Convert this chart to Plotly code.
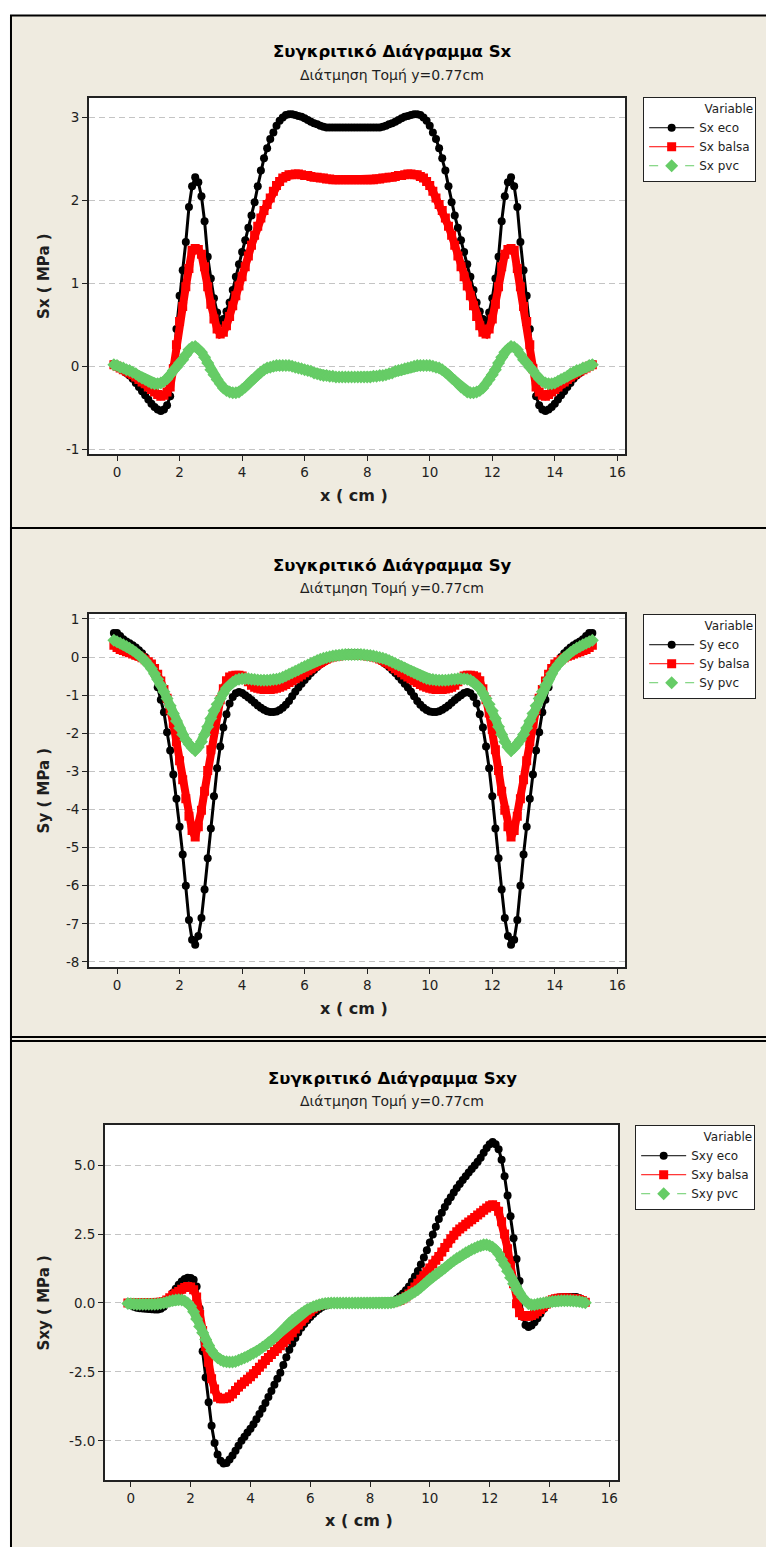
import plotly.graph_objects as go

# Sampling stations along the section (cm)
X_CM = [i / 10 for i in range(-1, 153)]

# ---- Sx (MPa) ----
SX_ECO = [
    0.03, 0.01, -0.02, -0.05, -0.08, -0.11, -0.15, -0.20, -0.25, -0.30,
    -0.35, -0.40, -0.45, -0.49, -0.52, -0.54, -0.52, -0.47, -0.36, 0.00,
    0.45, 0.85, 1.16, 1.50, 1.92, 2.17, 2.28, 2.22, 2.05, 1.75,
    1.32, 1.06, 0.82, 0.65, 0.52, 0.57, 0.66, 0.77, 0.92, 1.08,
    1.23, 1.38, 1.52, 1.67, 1.82, 1.98, 2.17, 2.36, 2.51, 2.63,
    2.74, 2.82, 2.90, 2.96, 3.00, 3.03, 3.04, 3.04, 3.03, 3.02,
    3.01, 2.99, 2.97, 2.95, 2.93, 2.92, 2.90, 2.89, 2.88, 2.88,
    2.88, 2.88, 2.88, 2.88, 2.88, 2.88, 2.88,
    2.88, 2.88, 2.88, 2.88, 2.88, 2.88, 2.88,
    2.88, 2.88, 2.89, 2.90, 2.92, 2.93, 2.95, 2.97, 2.99, 3.01,
    3.02, 3.03, 3.04, 3.04, 3.03, 3.00, 2.96, 2.90, 2.82, 2.74,
    2.63, 2.51, 2.36, 2.17, 1.98, 1.82, 1.67, 1.52, 1.38, 1.23,
    1.08, 0.92, 0.77, 0.66, 0.57, 0.52, 0.65, 0.82, 1.06, 1.32,
    1.75, 2.05, 2.22, 2.28, 2.17, 1.92, 1.50, 1.16, 0.85, 0.45,
    0.00, -0.36, -0.47, -0.52, -0.54, -0.52, -0.49, -0.45, -0.40, -0.35,
    -0.30, -0.25, -0.20, -0.15, -0.11, -0.08, -0.05, -0.02, 0.01, 0.03,
]
SX_BALSA = [
    0.02, 0.00, -0.02, -0.04, -0.06, -0.08, -0.10, -0.13, -0.16, -0.19,
    -0.21, -0.25, -0.28, -0.31, -0.34, -0.36, -0.35, -0.31, -0.25, -0.03,
    0.26, 0.54, 0.72, 0.96, 1.18, 1.40, 1.42, 1.41, 1.35, 1.20,
    0.96, 0.75, 0.57, 0.45, 0.39, 0.41, 0.49, 0.60, 0.73, 0.85,
    0.97, 1.08, 1.20, 1.33, 1.46, 1.58, 1.69, 1.79, 1.88, 1.95,
    2.03, 2.11, 2.18, 2.23, 2.27, 2.29, 2.31, 2.31, 2.32, 2.32,
    2.31, 2.30, 2.30, 2.29, 2.28, 2.28, 2.27, 2.27, 2.26, 2.26,
    2.25, 2.25, 2.25, 2.25, 2.25, 2.25, 2.25,
    2.25, 2.25, 2.25, 2.25, 2.25, 2.25, 2.25,
    2.26, 2.26, 2.27, 2.27, 2.28, 2.28, 2.29, 2.30, 2.30, 2.31,
    2.32, 2.32, 2.31, 2.31, 2.29, 2.27, 2.23, 2.18, 2.11, 2.03,
    1.95, 1.88, 1.79, 1.69, 1.58, 1.46, 1.33, 1.20, 1.08, 0.97,
    0.85, 0.73, 0.60, 0.49, 0.41, 0.39, 0.45, 0.57, 0.75, 0.96,
    1.20, 1.35, 1.41, 1.42, 1.40, 1.18, 0.96, 0.72, 0.54, 0.26,
    -0.03, -0.25, -0.31, -0.35, -0.36, -0.34, -0.31, -0.28, -0.25, -0.21,
    -0.19, -0.16, -0.13, -0.10, -0.08, -0.06, -0.04, -0.02, 0.00, 0.02,
]
SX_PVC = [
    0.02, 0.01, -0.01, -0.02, -0.04, -0.05, -0.07, -0.09, -0.12, -0.14,
    -0.16, -0.18, -0.20, -0.21, -0.21, -0.20, -0.18, -0.15, -0.10, -0.05,
    -0.01, 0.04, 0.08, 0.14, 0.20, 0.23, 0.24, 0.21, 0.17, 0.11,
    0.04, -0.04, -0.10, -0.16, -0.21, -0.26, -0.29, -0.31, -0.32, -0.32,
    -0.31, -0.28, -0.25, -0.21, -0.17, -0.14, -0.10, -0.07, -0.04, -0.02,
    -0.01, 0.00, 0.01, 0.01, 0.01, 0.01, 0.01, 0.00, -0.01, -0.02,
    -0.03, -0.04, -0.05, -0.06, -0.08, -0.09, -0.10, -0.11, -0.11, -0.12,
    -0.12, -0.13, -0.13, -0.13, -0.13, -0.13, -0.13,
    -0.13, -0.13, -0.13, -0.13, -0.13, -0.13, -0.12,
    -0.12, -0.11, -0.11, -0.10, -0.09, -0.08, -0.06, -0.05, -0.04, -0.03,
    -0.02, -0.01, 0.00, 0.01, 0.01, 0.01, 0.01, 0.01, 0.00, -0.01,
    -0.02, -0.04, -0.07, -0.10, -0.14, -0.17, -0.21, -0.25, -0.28, -0.31,
    -0.32, -0.32, -0.31, -0.29, -0.26, -0.21, -0.16, -0.10, -0.04, 0.04,
    0.11, 0.17, 0.21, 0.24, 0.23, 0.20, 0.14, 0.08, 0.04, -0.01,
    -0.05, -0.10, -0.15, -0.18, -0.20, -0.21, -0.21, -0.20, -0.18, -0.16,
    -0.14, -0.12, -0.09, -0.07, -0.05, -0.04, -0.02, -0.01, 0.01, 0.02,
]

# ---- Sy (MPa) ----
SY_ECO = [
    0.63, 0.63, 0.55, 0.47, 0.41, 0.36, 0.31, 0.25, 0.18, 0.10,
    0.00, -0.12, -0.27, -0.47, -0.79, -1.12, -1.45, -1.97, -2.45, -3.08,
    -3.72, -4.45, -5.18, -6.00, -6.90, -7.42, -7.55, -7.32, -6.85, -6.10,
    -5.28, -4.50, -3.65, -2.92, -2.35, -1.85, -1.50, -1.22, -1.05, -0.95,
    -0.92, -0.94, -1.00, -1.06, -1.13, -1.20, -1.27, -1.33, -1.38, -1.42,
    -1.44, -1.44, -1.43, -1.39, -1.33, -1.25, -1.15, -1.03, -0.91, -0.80,
    -0.70, -0.60, -0.51, -0.42, -0.34, -0.26, -0.19, -0.13, -0.07, -0.02,
    0.02, 0.05, 0.07, 0.08, 0.09, 0.10, 0.10,
    0.10, 0.10, 0.09, 0.08, 0.07, 0.05, 0.02,
    -0.02, -0.07, -0.13, -0.19, -0.26, -0.34, -0.42, -0.51, -0.60, -0.70,
    -0.80, -0.91, -1.03, -1.15, -1.25, -1.33, -1.39, -1.43, -1.44, -1.44,
    -1.42, -1.38, -1.33, -1.27, -1.20, -1.13, -1.06, -1.00, -0.94, -0.92,
    -0.95, -1.05, -1.22, -1.50, -1.85, -2.35, -2.92, -3.65, -4.50, -5.28,
    -6.10, -6.85, -7.32, -7.55, -7.42, -6.90, -6.00, -5.18, -4.45, -3.72,
    -3.08, -2.45, -1.97, -1.45, -1.12, -0.79, -0.47, -0.27, -0.12, 0.00,
    0.10, 0.18, 0.25, 0.31, 0.36, 0.41, 0.47, 0.55, 0.63, 0.63,
]
SY_BALSA = [
    0.31, 0.25, 0.20, 0.17, 0.14, 0.11, 0.08, 0.05, 0.02, -0.02,
    -0.07, -0.12, -0.18, -0.30, -0.45, -0.63, -0.85, -1.08, -1.38, -1.75,
    -2.22, -2.72, -3.22, -3.72, -4.18, -4.55, -4.72, -4.45, -4.02, -3.52,
    -2.98, -2.43, -1.90, -1.47, -1.12, -0.83, -0.62, -0.52, -0.49, -0.48,
    -0.48, -0.50, -0.56, -0.65, -0.74, -0.79, -0.82, -0.84, -0.85, -0.85,
    -0.85, -0.84, -0.82, -0.79, -0.76, -0.72, -0.67, -0.62, -0.57, -0.52,
    -0.47, -0.41, -0.36, -0.31, -0.25, -0.19, -0.14, -0.09, -0.05, -0.02,
    0.00, 0.02, 0.03, 0.04, 0.04, 0.05, 0.05,
    0.05, 0.05, 0.04, 0.04, 0.03, 0.02, 0.00,
    -0.02, -0.05, -0.09, -0.14, -0.19, -0.25, -0.31, -0.36, -0.41, -0.47,
    -0.52, -0.57, -0.62, -0.67, -0.72, -0.76, -0.79, -0.82, -0.84, -0.85,
    -0.85, -0.85, -0.84, -0.82, -0.79, -0.74, -0.65, -0.56, -0.50, -0.48,
    -0.48, -0.49, -0.52, -0.62, -0.83, -1.12, -1.47, -1.90, -2.43, -2.98,
    -3.52, -4.02, -4.45, -4.72, -4.55, -4.18, -3.72, -3.22, -2.72, -2.22,
    -1.75, -1.38, -1.08, -0.85, -0.63, -0.45, -0.30, -0.18, -0.12, -0.07,
    -0.02, 0.02, 0.05, 0.08, 0.11, 0.14, 0.17, 0.20, 0.25, 0.31,
]
SY_PVC = [
    0.44, 0.40, 0.36, 0.32, 0.28, 0.23, 0.18, 0.12, 0.05, -0.02,
    -0.10, -0.20, -0.31, -0.44, -0.58, -0.74, -0.91, -1.09, -1.28, -1.48,
    -1.68, -1.86, -2.03, -2.17, -2.28, -2.38, -2.45, -2.36, -2.22, -2.03,
    -1.83, -1.61, -1.41, -1.24, -1.09, -0.95, -0.82, -0.73, -0.66, -0.61,
    -0.58, -0.57, -0.57, -0.57, -0.58, -0.59, -0.60, -0.61, -0.61, -0.61,
    -0.60, -0.59, -0.58, -0.56, -0.53, -0.49, -0.45, -0.41, -0.37, -0.33,
    -0.29, -0.25, -0.21, -0.17, -0.13, -0.09, -0.06, -0.03, -0.01, 0.01,
    0.03, 0.04, 0.05, 0.06, 0.07, 0.07, 0.07,
    0.07, 0.07, 0.07, 0.06, 0.05, 0.04, 0.03,
    0.01, -0.01, -0.03, -0.06, -0.09, -0.13, -0.17, -0.21, -0.25, -0.29,
    -0.33, -0.37, -0.41, -0.45, -0.49, -0.53, -0.56, -0.58, -0.59, -0.60,
    -0.61, -0.61, -0.61, -0.60, -0.59, -0.58, -0.57, -0.57, -0.57, -0.58,
    -0.61, -0.66, -0.73, -0.82, -0.95, -1.09, -1.24, -1.41, -1.61, -1.83,
    -2.03, -2.22, -2.36, -2.45, -2.38, -2.28, -2.17, -2.03, -1.86, -1.68,
    -1.48, -1.28, -1.09, -0.91, -0.74, -0.58, -0.44, -0.31, -0.20, -0.10,
    -0.02, 0.05, 0.12, 0.18, 0.23, 0.28, 0.32, 0.36, 0.40, 0.44,
]

# ---- Sxy (MPa) ----
SXY_ECO = [
    0.00, -0.08, -0.14, -0.17, -0.19, -0.20, -0.21, -0.22, -0.23, -0.24,
    -0.24, -0.21, -0.14, -0.02, 0.18, 0.36, 0.52, 0.66, 0.78, 0.87,
    0.92, 0.91, 0.84, 0.60, -0.20, -1.75, -2.70, -3.60, -4.45, -5.08,
    -5.50, -5.72, -5.82, -5.80, -5.68, -5.53, -5.36, -5.18, -5.00, -4.85,
    -4.70, -4.56, -4.40, -4.22, -4.03, -3.84, -3.63, -3.41, -3.19, -2.97,
    -2.75, -2.53, -2.25, -1.97, -1.70, -1.47, -1.27, -1.07, -0.90, -0.76,
    -0.63, -0.51, -0.40, -0.30, -0.22, -0.15, -0.10, -0.06, -0.03, -0.01,
    0.00, 0.00, 0.00, 0.00, 0.00, 0.00, 0.00, 0.00, 0.00, 0.00,
    0.00, 0.00, 0.00, 0.00, 0.00, 0.00, 0.00, 0.01, 0.04, 0.08,
    0.15, 0.24, 0.34, 0.46, 0.60, 0.78, 0.96, 1.16, 1.40, 1.65,
    1.91, 2.19, 2.48, 2.77, 3.05, 3.27, 3.48, 3.67, 3.84, 4.01,
    4.17, 4.32, 4.46, 4.60, 4.73, 4.86, 4.99, 5.12, 5.27, 5.45,
    5.62, 5.76, 5.84, 5.76, 5.58, 5.20, 4.60, 3.90, 3.15, 2.35,
    1.60, 0.80, -0.50, -0.80, -0.87, -0.82, -0.70, -0.55, -0.39, -0.22,
    -0.08, 0.04, 0.12, 0.17, 0.20, 0.21, 0.22, 0.22, 0.22, 0.22,
    0.22, 0.18, 0.10, 0.02,
]
SXY_BALSA = [
    0.00, 0.00, 0.00, 0.00, 0.00, 0.00, 0.00, 0.00, 0.00, 0.01,
    0.02, 0.03, 0.05, 0.11, 0.19, 0.28, 0.35, 0.42, 0.50, 0.56,
    0.60, 0.58, 0.48, 0.22, -0.42, -1.00, -1.58, -2.15, -2.75, -3.12,
    -3.42, -3.47, -3.47, -3.46, -3.40, -3.30, -3.17, -3.05, -2.95, -2.86,
    -2.77, -2.68, -2.57, -2.45, -2.33, -2.21, -2.09, -1.98, -1.87, -1.76,
    -1.66, -1.55, -1.44, -1.33, -1.21, -1.08, -0.94, -0.80, -0.66, -0.54,
    -0.42, -0.31, -0.21, -0.14, -0.09, -0.05, -0.03, -0.01, 0.00, 0.00,
    0.00, 0.00, 0.00, 0.00, 0.00, 0.00, 0.00, 0.00, 0.00, 0.00,
    0.00, 0.00, 0.00, 0.00, 0.00, 0.00, 0.00, 0.00, 0.01, 0.03,
    0.05, 0.09, 0.15, 0.23, 0.33, 0.45, 0.58, 0.72, 0.86, 0.99,
    1.13, 1.27, 1.41, 1.55, 1.69, 1.85, 2.01, 2.17, 2.33, 2.46,
    2.58, 2.68, 2.77, 2.86, 2.94, 3.02, 3.10, 3.19, 3.27, 3.36,
    3.45, 3.53, 3.56, 3.50, 3.33, 2.95, 2.50, 1.97, 1.35, 0.70,
    -0.03, -0.35, -0.45, -0.48, -0.48, -0.45, -0.40, -0.32, -0.24, -0.14,
    -0.04, 0.06, 0.12, 0.15, 0.17, 0.18, 0.18, 0.18, 0.17, 0.16,
    0.15, 0.13, 0.09, 0.03,
]
SXY_PVC = [
    -0.02, -0.03, -0.04, -0.05, -0.05, -0.05, -0.05, -0.05, -0.05, -0.05,
    -0.04, -0.02, 0.00, 0.03, 0.06, 0.09, 0.11, 0.12, 0.11, 0.07,
    0.00, -0.12, -0.32, -0.58, -0.85, -1.08, -1.32, -1.54, -1.73, -1.88,
    -1.99, -2.06, -2.11, -2.13, -2.14, -2.14, -2.12, -2.08, -2.03, -1.99,
    -1.94, -1.88, -1.82, -1.76, -1.69, -1.61, -1.53, -1.44, -1.36, -1.27,
    -1.17, -1.06, -0.95, -0.84, -0.73, -0.63, -0.54, -0.46, -0.38, -0.31,
    -0.24, -0.19, -0.14, -0.10, -0.06, -0.04, -0.02, -0.01, 0.00, 0.00,
    0.00, 0.00, 0.00, 0.00, 0.00, 0.00, 0.00, 0.00, 0.00, 0.00,
    0.00, 0.00, 0.00, 0.00, 0.00, 0.00, 0.00, 0.00, 0.01, 0.03,
    0.06, 0.10, 0.15, 0.21, 0.27, 0.34, 0.41, 0.48, 0.57, 0.67,
    0.77, 0.87, 0.95, 1.03, 1.11, 1.19, 1.27, 1.36, 1.45, 1.53,
    1.61, 1.68, 1.75, 1.82, 1.88, 1.94, 1.99, 2.04, 2.08, 2.11,
    2.11, 2.08, 2.02, 1.93, 1.78, 1.58, 1.38, 1.15, 0.92, 0.70,
    0.50, 0.35, 0.21, 0.08, -0.03, -0.06, -0.06, -0.04, -0.02, 0.00,
    0.02, 0.04, 0.05, 0.06, 0.07, 0.08, 0.08, 0.08, 0.08, 0.07,
    0.06, 0.05, 0.03, 0.01,
]

X_TICKS = [0, 2, 4, 6, 8, 10, 12, 14, 16]
SX_TICKS = [-1, 0, 1, 2, 3]
SX_TICK_TEXT = ["-1", "0", "1", "2", "3"]
SY_TICKS = [-8, -7, -6, -5, -4, -3, -2, -1, 0, 1]
SY_TICK_TEXT = ["-8", "-7", "-6", "-5", "-4", "-3", "-2", "-1", "0", "1"]
SXY_TICKS = [-5.0, -2.5, 0.0, 2.5, 5.0]
SXY_TICK_TEXT = ["-5.0", "-2.5", "0.0", "2.5", "5.0"]

TITLE = "Συγκριτικό Διάγραμμα"
SUBTITLE = "Διάτμηση Τομή y=0.77cm"
X_TITLE = "x ( cm )"
LEGEND_TITLE = "Variable"
MATERIALS = ["eco", "balsa", "pvc"]

for series in (SX_ECO, SX_BALSA, SX_PVC, SY_ECO, SY_BALSA, SY_PVC,
               SXY_ECO, SXY_BALSA, SXY_PVC):
    assert len(series) == len(X_CM), len(series)

# ---------------------------------------------------------------- layout
W, H = 766, 1547
FONT = "DejaVu Sans"
BEIGE = "#EFEBE0"
GREEN = "#66CC66"
INK = "#1E1E1E"


def fx(p):
    return p / W


def fy(p):
    return 1 - p / H


# marker + connecting line per material, and the width of the dense
# band that the closely spaced symbols form underneath
STYLE = {
    "eco": dict(line=dict(color="black", width=1),
                marker=dict(symbol="circle", size=8, color="black")),
    "balsa": dict(line=dict(color="#FF0000", width=1),
                  marker=dict(symbol="square", size=9, color="#FF0000")),
    "pvc": dict(line=dict(color=GREEN, width=1, dash="dash"),
                marker=dict(symbol="diamond", size=10, color=GREEN)),
}
BAND = {"eco": ("black", 3), "balsa": ("#FF0000", 8), "pvc": (GREEN, 9)}

panels = [
    dict(name="Sx", data=[SX_ECO, SX_BALSA, SX_PVC],
         yticks=SX_TICKS, ytext=SX_TICK_TEXT,
         yrange=[-1.06, 3.24], xrange=[-0.9, 16.25],
         box=(11, 12.5, 1524), plot=(89, 626, 95, 453),
         title_y=49, sub_y=72, xt_y=494, leg=(644, 94)),
    dict(name="Sy", data=[SY_ECO, SY_BALSA, SY_PVC],
         yticks=SY_TICKS, ytext=SY_TICK_TEXT,
         yrange=[-8.14, 1.14], xrange=[-0.9, 16.25],
         box=(11, 527, 1038), plot=(89, 626, 613, 968),
         title_y=565, sub_y=587, xt_y=1009, leg=(644, 613)),
    dict(name="Sxy", data=[SXY_ECO, SXY_BALSA, SXY_PVC],
         yticks=SXY_TICKS, ytext=SXY_TICK_TEXT,
         yrange=[-6.43, 6.47], xrange=[-0.87, 16.3],
         box=(11, 1042, 1560), plot=(105, 619, 1126, 1483),
         title_y=1080, sub_y=1102, xt_y=1523, leg=(636, 1126)),
]

fig = go.Figure()
shapes, annotations = [], []
layout = dict(
    width=W, height=H, margin=dict(l=0, r=0, t=0, b=0),
    paper_bgcolor="white", plot_bgcolor="white",
    font=dict(family=FONT, color=INK), showlegend=True,
)

for k, p in enumerate(panels, start=1):
    sfx = "" if k == 1 else str(k)
    xa, ya = "x" + sfx, "y" + sfx
    legend_id = "legend" + sfx

    for mat, ys in zip(MATERIALS, p["data"]):
        band_color, band_width = BAND[mat]
        fig.add_trace(go.Scatter(
            x=X_CM, y=ys, mode="lines", xaxis=xa, yaxis=ya,
            line=dict(color=band_color, width=band_width),
            showlegend=False, hoverinfo="skip", legend=legend_id,
        ))
        fig.add_trace(go.Scatter(
            x=X_CM, y=ys, mode="lines+markers",
            name=f"{p['name']} {mat}", xaxis=xa, yaxis=ya,
            legend=legend_id, **STYLE[mat],
        ))

    x0, x1, y0, y1 = p["plot"]
    axis_common = dict(showline=True, linecolor="#222222", linewidth=1.5,
                       mirror=True, ticks="outside", ticklen=5,
                       tickcolor="#222222", tickwidth=1,
                       tickfont=dict(family=FONT, size=13.5, color=INK),
                       zeroline=False)
    layout["xaxis" + sfx] = dict(
        domain=[fx(x0), fx(x1)], anchor=ya, range=p["xrange"],
        tickvals=X_TICKS, showgrid=False, **axis_common)
    layout["yaxis" + sfx] = dict(
        domain=[fy(y1), fy(y0)], anchor=xa, range=p["yrange"],
        tickvals=p["yticks"], ticktext=p["ytext"],
        showgrid=True, gridcolor="#C4C4C4", gridwidth=1,
        griddash="6px,4px", **axis_common)

    lx, ly = p["leg"]
    layout[legend_id] = dict(
        x=fx(lx), y=fy(ly), xanchor="left", yanchor="top",
        bgcolor="white", bordercolor="#222222", borderwidth=1,
        font=dict(family=FONT, size=12, color=INK),
        title=dict(text=LEGEND_TITLE, side="top right",
                   font=dict(family=FONT, size=12, color=INK)),
        itemwidth=45, tracegroupgap=0, traceorder="normal",
    )

    # beige panel with black frame, white plotting area on top of it
    bx, by0, by1 = p["box"]
    shapes.append(dict(type="rect", xref="paper", yref="paper",
                       x0=fx(bx), x1=fx(W + 10), y0=fy(by1), y1=fy(by0),
                       fillcolor=BEIGE, line=dict(color="black", width=2),
                       layer="below"))
    shapes.append(dict(type="rect", xref="paper", yref="paper",
                       x0=fx(x0), x1=fx(x1), y0=fy(y1), y1=fy(y0),
                       fillcolor="white", line=dict(width=0),
                       layer="below"))

    cx = 393
    annotations += [
        dict(text=f"<b>{TITLE} {p['name']}</b>", x=fx(cx), y=fy(p["title_y"]),
             font=dict(family=FONT, size=16.5, color="black")),
        dict(text=SUBTITLE, x=fx(cx), y=fy(p["sub_y"]),
             font=dict(family=FONT, size=14, color=INK)),
        dict(text=f"<b>{X_TITLE}</b>", x=fx((x0 + x1) / 2 - 3),
             y=fy(p["xt_y"]),
             font=dict(family=FONT, size=16, color=INK)),
        dict(text=f"<b>{p['name']} ( MPa )</b>", x=fx(44),
             y=fy((y0 + y1) / 2), textangle=-90,
             font=dict(family=FONT, size=15, color=INK)),
    ]

for a in annotations:
    a.update(xref="paper", yref="paper", xanchor="center", yanchor="middle",
             showarrow=False)

layout["shapes"] = shapes
layout["annotations"] = annotations
fig.update_layout(**layout)
fig.write_html("out.html")
